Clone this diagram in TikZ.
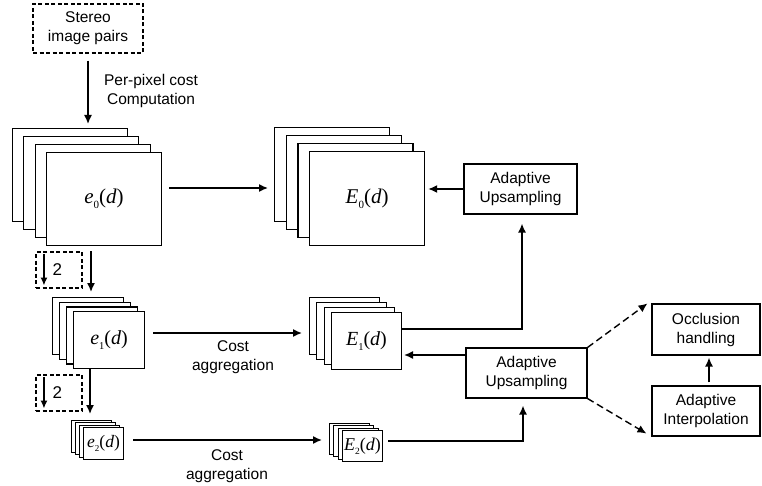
\documentclass[tikz,border=0pt]{standalone}
\usepackage{fontspec}
\setmainfont{Liberation Sans}
\newfontfamily\tms{Liberation Serif}
\usetikzlibrary{arrows.meta}

% cost volume label: #1 letter, #2 level, #3 size, #4 subscript size
\newcommand\cvar[4]{{\tms\fontsize{#3}{#3}\selectfont\textit{#1}\raisebox{-0.22em}{\fontsize{#4}{#4}\selectfont #2}(\textit{d\/})}}

% stack of four slices: #1 name, #2,#3 back corner, #4,#5 step, #6 width, #7 height, #8 label
\newcommand\slicestack[8]{%
  \node[layer, minimum width=#6pt, minimum height=#7pt] (#1a) at (#2,#3) {};
  \node[layer, minimum width=#6pt, minimum height=#7pt] (#1b) at (#2+#4,#3+#5) {};
  \node[layer, minimum width=#6pt, minimum height=#7pt] (#1c) at (#2+2*#4,#3+2*#5) {};
  \node[layer, minimum width=#6pt, minimum height=#7pt] (#1) at (#2+3*#4,#3+3*#5) {#8};
}

\tikzset{
  txt/.style={font=\fontsize{15.5}{19}\selectfont},
  box/.style={draw, line width=1.1pt, fill=white, align=center, inner sep=0pt, txt},
  layer/.style={draw, line width=1.1pt, fill=white, anchor=north west, inner sep=0pt},
  dbox/.style={box, dash pattern=on 4pt off 2.5pt},
  arr/.style={-{Latex[length=9pt,width=8pt]}, line width=1.5pt},
  smallarr/.style={-{Latex[length=8pt,width=7pt]}, line width=1.5pt},
  darr/.style={arr, line width=1.4pt, dash pattern=on 7pt off 4pt},
  lbl/.style={align=center, txt},
}

\begin{document}
\begin{tikzpicture}[x=1pt, y=-1pt]
\useasboundingbox (0,0) rectangle (762,486);

% input
\node[dbox, minimum width=110pt, minimum height=49pt] (stereo) at (88,28.5) {Stereo\\image pairs};
\node[lbl] (ppc) at (151,91) {Per-pixel cost\\Computation};

% full-resolution volumes
\slicestack{e0}{12}{128}{11.3}{8}{115}{93}{\cvar{e}{0}{21}{11}}
\slicestack{E0}{274}{127}{11.7}{8}{115}{94}{\cvar{E}{0}{21}{11}}

% level 1
\slicestack{e1}{52}{297}{7}{4.7}{71}{57}{\cvar{e}{1}{20}{10.5}}
\slicestack{E1}{309}{297}{7.3}{5}{70}{57}{\cvar{E}{1}{20}{10.5}}

% level 2
\slicestack{e2}{71}{420}{4}{2.3}{40}{32}{\cvar{e}{2}{17.5}{9}}
\slicestack{E2}{329}{423}{4.3}{2.3}{40}{31}{\cvar{E}{2}{18}{9.5}}

% downsampling marks
\node[dbox, minimum width=46pt, minimum height=36pt] (ds1) at (59,270) {};
\draw[smallarr] ([xshift=8.5pt,yshift=-3pt]ds1.north west) -- ([xshift=8.5pt,yshift=3pt]ds1.south west);
\node[font=\fontsize{17}{17}\selectfont] (two1) at ([xshift=22pt]ds1.west) {2};
\node[dbox, minimum width=46pt, minimum height=36pt] (ds2) at (59,393) {};
\draw[smallarr] ([xshift=8.5pt,yshift=-3pt]ds2.north west) -- ([xshift=8.5pt,yshift=3pt]ds2.south west);
\node[font=\fontsize{17}{17}\selectfont] (two2) at ([xshift=22pt]ds2.west) {2};

% processing boxes
\node[box, minimum width=113pt, minimum height=50pt] (au1) at (520.5,189) {Adaptive\\Upsampling};
\node[box, minimum width=121pt, minimum height=50pt] (au2) at (526.5,373) {Adaptive\\Upsampling};
\node[box, minimum width=108pt, minimum height=51pt] (oh) at (706,329.5) {Occlusion\\handling};
\node[box, minimum width=108pt, minimum height=50pt] (ai) at (706,411) {Adaptive\\Interpolation};

% labels
\node[lbl] (agg1) at (233,357.5) {Cost\\aggregation};
\node[lbl] (agg2) at (227,466.5) {Cost\\aggregation};

% connectors
\draw[arr, shorten <=7pt, shorten >=4pt] (stereo) -- (stereo |- e0a.north);
\draw[arr, shorten <=7pt, shorten >=6pt] (e0.east |- 0,188) -- (E0a.west |- 0,188);
\draw[arr, shorten >=3pt] (au1.west) -- (au1.west -| E0.east);
\draw[arr, shorten <=5pt, shorten >=5pt] (e0.south -| 91,0) -- (e1a.north -| 91,0);
\draw[arr, shorten >=6pt] (e1.south -| 90,0) -- (e2a.north -| 90,0);
\draw[arr, shorten <=8pt, shorten >=7pt] (e1.east |- 0,333) -- (E1a.west |- 0,333);
\draw[arr, shorten <=9pt, shorten >=7pt] (e2.east |- 0,440) -- (E2a.west |- 0,440);
\draw[arr, shorten >=2pt] (au2.west |- 0,355) -- (E1.east |- 0,355);
\draw[arr, shorten >=9pt] (E1.east |- 0,329) -| (au1.south -| 522,0);
\draw[arr, shorten <=5pt, shorten >=7pt] (E2.east |- 0,441) -| (au2.south -| 523,0);
\draw[arr, shorten <=3pt, shorten >=2pt] (ai.north -| 709,0) -- (oh.south -| 709,0);
\draw[darr] (au2.north east) -- ([xshift=-4pt]oh.north west);
\draw[darr] (au2.south east) -- ([xshift=-5pt,yshift=3pt]ai.south west);
\end{tikzpicture}
\end{document}
